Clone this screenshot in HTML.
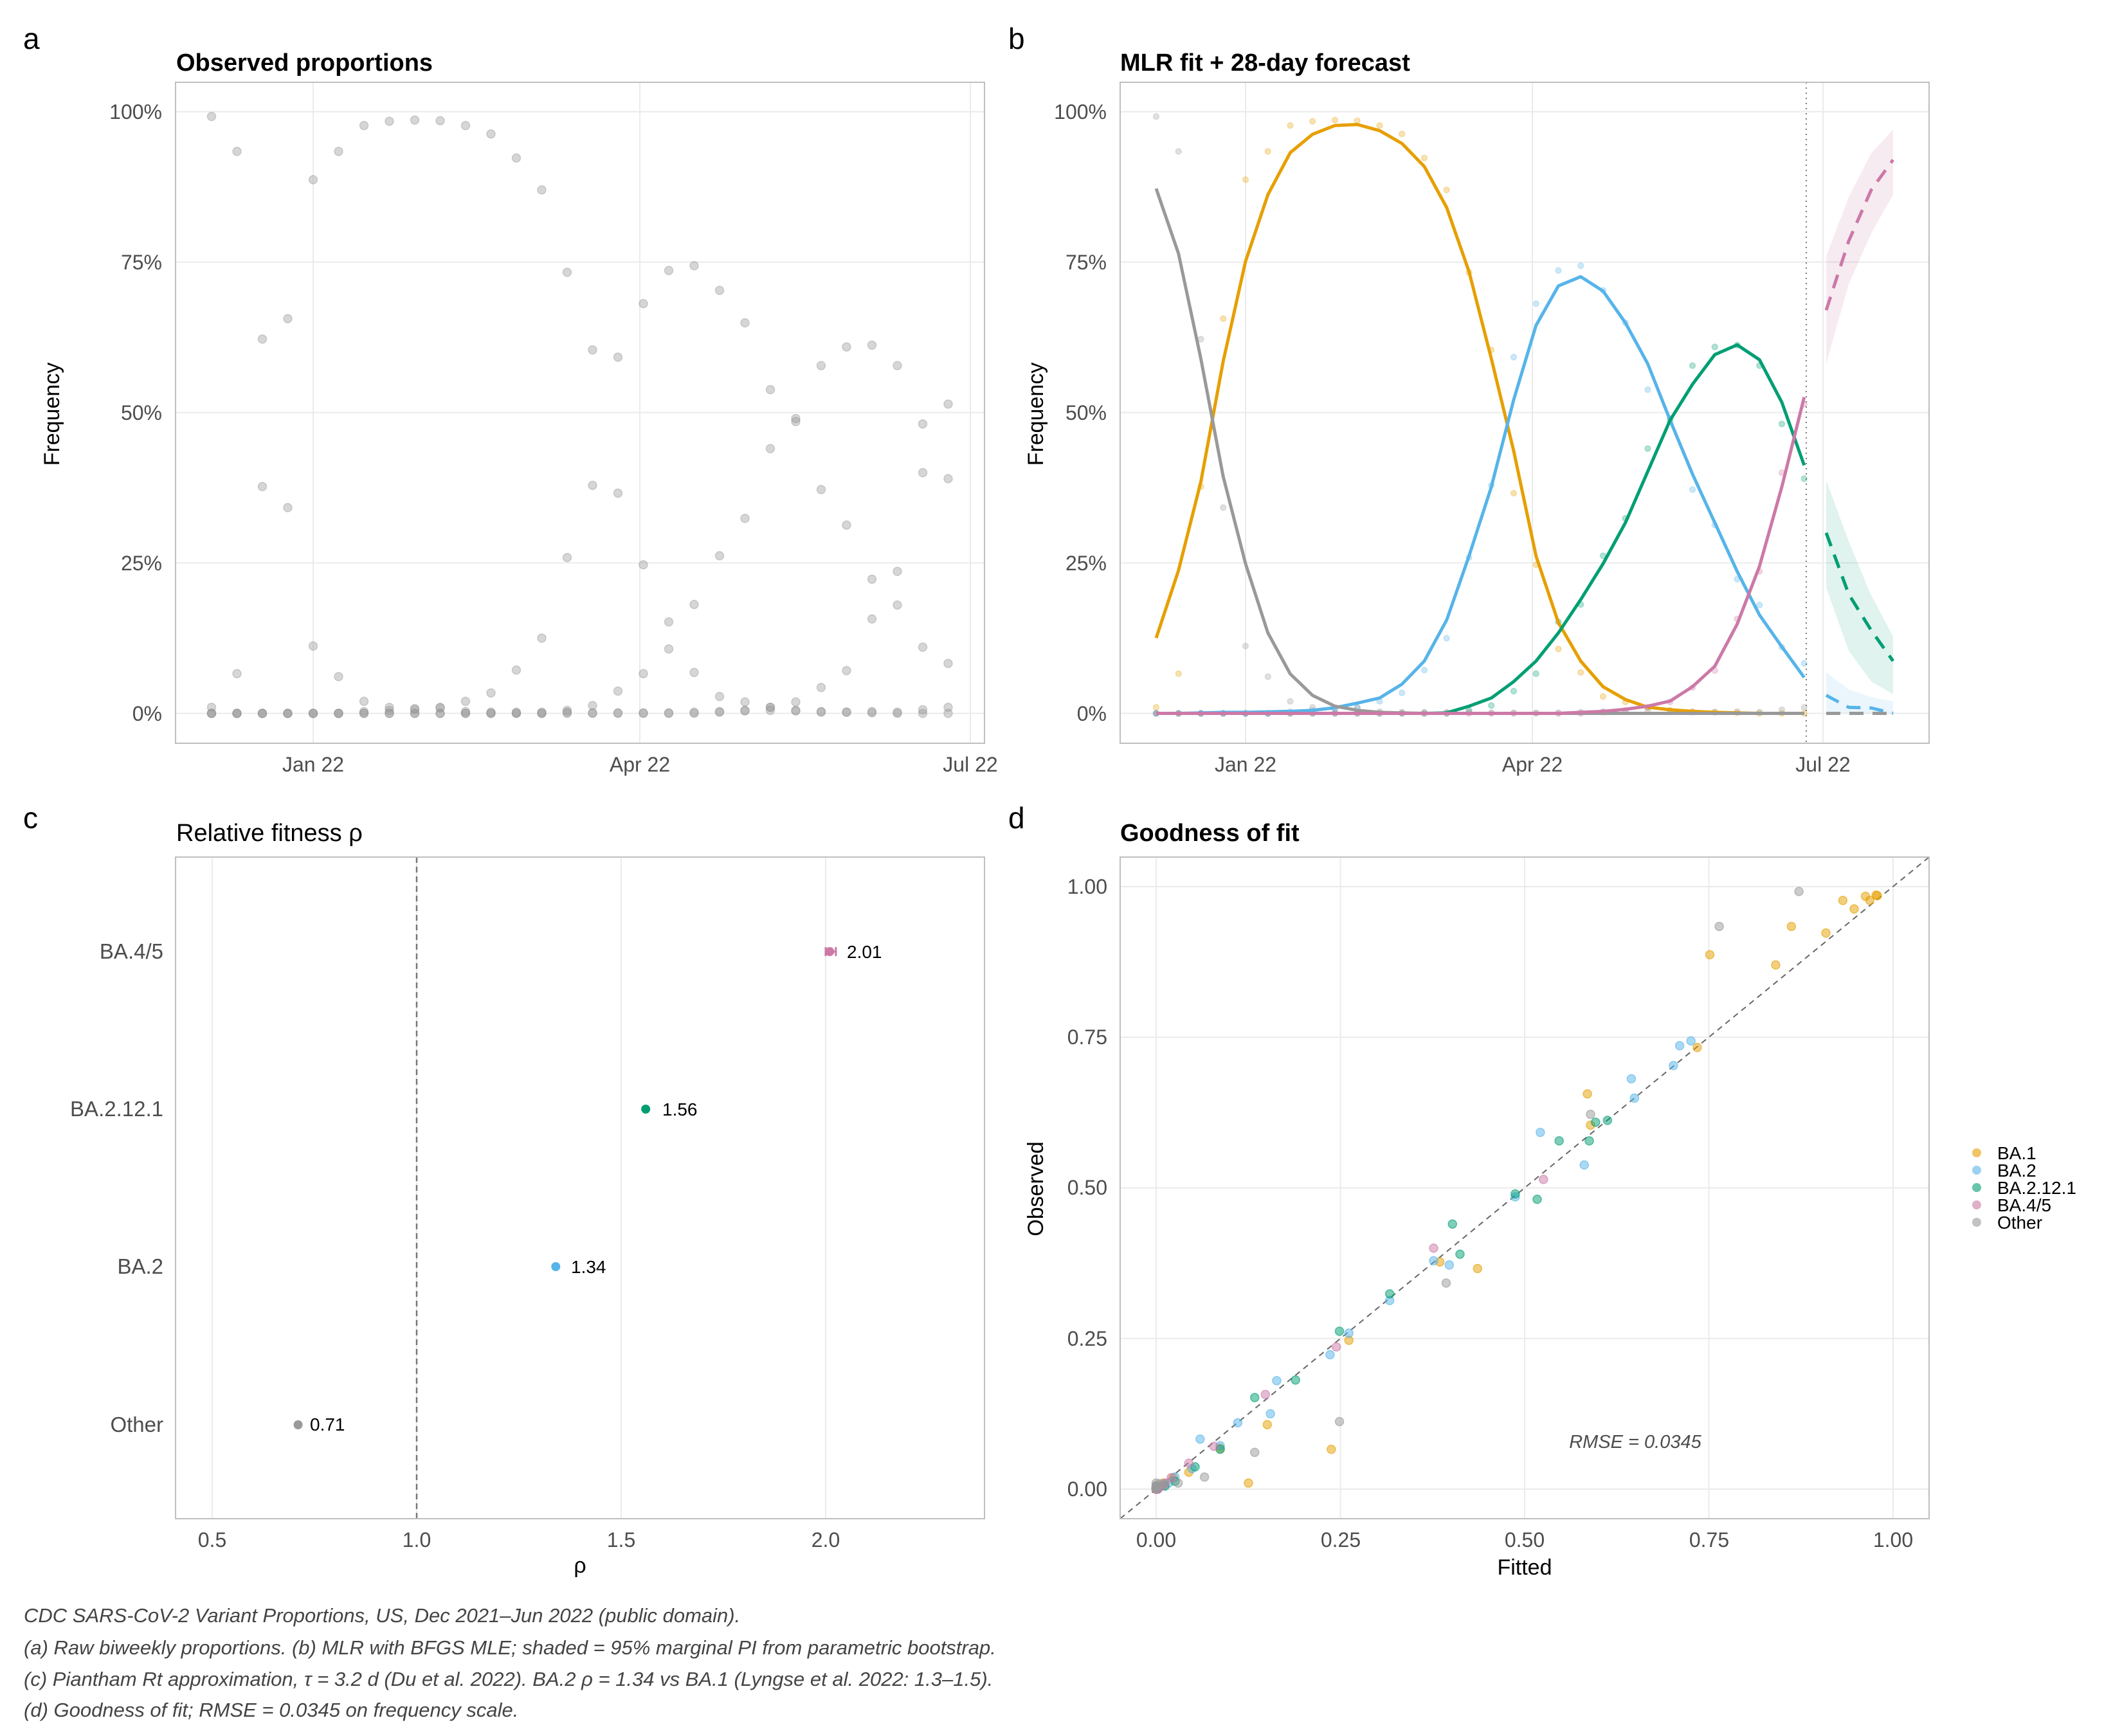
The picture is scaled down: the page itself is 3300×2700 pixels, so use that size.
<!DOCTYPE html>
<html><head><meta charset="utf-8"><style>
html,body{margin:0;padding:0;background:#fff}
svg{display:block}
text{font-family:"Liberation Sans",sans-serif}
.tk{font-size:32px;fill:#4d4d4d}
.tt{font-size:38px;font-weight:bold;fill:#000}
.pl{font-size:46px;fill:#000}
.ax{font-size:34px;fill:#000}
.cap{font-size:31px;font-style:italic;fill:#444}
</style></head><body>
<svg id="s" width="3300" height="2700" viewBox="0 0 3300 2700" xmlns="http://www.w3.org/2000/svg">
<rect width="3300" height="2700" fill="#fff"/>
<g id="grid"></g>
<g id="data"></g>
<g fill="none" stroke="#bfbfbf" stroke-width="2">
<rect x="273" y="128" width="1258" height="1028"/>
<rect x="1742" y="128" width="1258" height="1028"/>
<rect x="273" y="1333" width="1258" height="1029"/>
<rect x="1742" y="1333" width="1258" height="1029"/>
</g>
<text class="pl" x="36" y="76">a</text>
<text class="pl" x="1568" y="76">b</text>
<text class="pl" x="36" y="1288">c</text>
<text class="pl" x="1568" y="1288">d</text>
<text class="tt" x="274" y="110">Observed proportions</text>
<text class="tt" x="1742" y="110">MLR fit + 28-day forecast</text>
<text x="274" y="1308" style="font-size:38px;fill:#000">Relative fitness ρ</text>
<text class="tt" x="1742" y="1308">Goodness of fit</text>
<g class="tk" text-anchor="end">
<text x="252" y="185">100%</text><text x="252" y="419">75%</text><text x="252" y="653">50%</text><text x="252" y="887">25%</text><text x="252" y="1121">0%</text>
<text x="1721" y="185">100%</text><text x="1721" y="419">75%</text><text x="1721" y="653">50%</text><text x="1721" y="887">25%</text><text x="1721" y="1121">0%</text>
<text x="254" y="1491" style="font-size:33px">BA.4/5</text><text x="254" y="1736" style="font-size:33px">BA.2.12.1</text><text x="254" y="1981" style="font-size:33px">BA.2</text><text x="254" y="2227" style="font-size:33px">Other</text>
<text x="1722" y="1390">1.00</text><text x="1722" y="1624">0.75</text><text x="1722" y="1858">0.50</text><text x="1722" y="2093">0.25</text><text x="1722" y="2327">0.00</text>
</g>
<g class="tk" text-anchor="middle">
<text x="487" y="1200">Jan 22</text><text x="995" y="1200">Apr 22</text><text x="1509" y="1200">Jul 22</text>
<text x="1937" y="1200">Jan 22</text><text x="2383" y="1200">Apr 22</text><text x="2835" y="1200">Jul 22</text>
<text x="330" y="2406">0.5</text><text x="648" y="2406">1.0</text><text x="966" y="2406">1.5</text><text x="1284" y="2406">2.0</text>
<text x="1798" y="2406">0.00</text><text x="2085" y="2406">0.25</text><text x="2371" y="2406">0.50</text><text x="2658" y="2406">0.75</text><text x="2944" y="2406">1.00</text>
</g>
<text class="ax" text-anchor="middle" transform="translate(92,644) rotate(-90)">Frequency</text>
<text class="ax" text-anchor="middle" transform="translate(1622,644) rotate(-90)">Frequency</text>
<text class="ax" text-anchor="middle" transform="translate(1622,1849) rotate(-90)">Observed</text>
<text class="ax" text-anchor="middle" x="902" y="2446">ρ</text>
<text class="ax" text-anchor="middle" x="2371" y="2449">Fitted</text>
<g style="font-size:28px;fill:#000">
<text x="1317" y="1490">2.01</text><text x="1030" y="1735">1.56</text><text x="888" y="1980">1.34</text><text x="482" y="2225">0.71</text>
</g>
<text x="2543" y="2252" text-anchor="middle" style="font-size:29px;font-style:italic;fill:#4d4d4d">RMSE = 0.0345</text>
<g style="font-size:28px;fill:#000">
<circle cx="3074" cy="1793" r="7" fill="#E69F00" fill-opacity=".6"/><text x="3106" y="1803">BA.1</text>
<circle cx="3074" cy="1820" r="7" fill="#56B4E9" fill-opacity=".6"/><text x="3106" y="1830">BA.2</text>
<circle cx="3074" cy="1847" r="7" fill="#009E73" fill-opacity=".6"/><text x="3106" y="1857">BA.2.12.1</text>
<circle cx="3074" cy="1874" r="7" fill="#CC79A7" fill-opacity=".6"/><text x="3106" y="1884">BA.4/5</text>
<circle cx="3074" cy="1901" r="7" fill="#999999" fill-opacity=".6"/><text x="3106" y="1911">Other</text>
</g>
<text class="cap" x="37" y="2523">CDC SARS-CoV-2 Variant Proportions, US, Dec 2021–Jun 2022 (public domain).</text>
<text class="cap" x="37" y="2573">(a) Raw biweekly proportions. (b) MLR with BFGS MLE; shaded = 95% marginal PI from parametric bootstrap.</text>
<text class="cap" x="37" y="2622">(c) Piantham Rt approximation, τ = 3.2 d (Du et al. 2022). BA.2 ρ = 1.34 vs BA.1 (Lyngse et al. 2022: 1.3–1.5).</text>
<text class="cap" x="37" y="2670">(d) Goodness of fit; RMSE = 0.0345 on frequency scale.</text>
</svg>
<script>
var NS="http://www.w3.org/2000/svg";
function el(p,t,a){var e=document.createElementNS(NS,t);for(var k in a)e.setAttribute(k,a[k]);p.appendChild(e);return e;}
var G=document.getElementById("grid"),D=document.getElementById("data");
var gs={stroke:"#ebebeb","stroke-width":2};
function ya(v){return 1109.5-v*935.8;}
function xa(i){return 329+39.5*i;}
function xb(i){return 1798+34.75*i;}
function xd(v){return 1798+1146*v;}
function yd(v){return 2316-937*v;}
function xc(r){return 330+636*(r-0.5);}
[0,.25,.5,.75,1].forEach(function(v){
 el(G,"line",Object.assign({x1:273,x2:1531,y1:ya(v),y2:ya(v)},gs));
 el(G,"line",Object.assign({x1:1742,x2:3000,y1:ya(v),y2:ya(v)},gs));
 el(G,"line",Object.assign({x1:1742,x2:3000,y1:yd(v),y2:yd(v)},gs));
 el(G,"line",Object.assign({x1:xd(v),x2:xd(v),y1:1333,y2:2362},gs));
});
[487,995,1509].forEach(function(x){el(G,"line",Object.assign({x1:x,x2:x,y1:128,y2:1156},gs));});
[1937,2383,2835].forEach(function(x){el(G,"line",Object.assign({x1:x,x2:x,y1:128,y2:1156},gs));});
[0.5,1,1.5,2].forEach(function(r){el(G,"line",Object.assign({x1:xc(r),x2:xc(r),y1:1333,y2:2362},gs));});
var C={o:"#E69F00",b:"#56B4E9",g:"#009E73",p:"#CC79A7",x:"#999999"};
function z(n){var a=[];for(var i=0;i<n;i++)a.push(0);return a;}
var obs={
x:[99.2,93.4,62.2,34.2,11.2,6.1,2.0,1.0,0.8,0.9,0.3,0.2,0.2,0.2,0.2,0.1,0.1,0.1,0.1,0.2,0.3,0.4,0.5,0.4,0.2,0.2,0.3,0.2,0.6,1.0],
o:[1.0,6.6,37.7,65.6,88.7,93.4,97.7,98.4,98.6,98.5,97.7,96.3,92.3,87.0,73.3,60.4,36.6,24.7,10.7,6.8,2.8,1.9,1.0,0.5,0.3,0.2,0.1,0,0,0],
b:[0,0,0,0,0,0,0.3,0.5,0.6,1.0,2.0,3.4,7.2,12.5,25.9,37.9,59.2,68.1,73.6,74.4,70.3,64.9,53.8,48.5,37.2,31.3,22.3,18.0,11.0,8.3],
g:z(14).concat([0.5,1.3,3.7,6.6,15.2,18.1,26.2,32.4,44.0,49.0,57.8,60.9,61.2,57.8,48.1,39.0]),
p:z(20).concat([0.2,0.5,1.0,1.9,4.3,7.1,15.7,23.6,40.0,51.4])
};
function fy(a){return a.map(function(y){return (1392-y)/1174;});}
var fit={
o:fy([1245,1113,940,705,510,380,298,262,245,243,255,280,325,405,530,700,880,1085,1215,1290,1340,1365,1380,1385,1388,1390,1391,1392,1392,1392]),
x:fy([368,495,700,930,1100,1235,1315,1357,1378,1386,1390,1391,1392,1392,1392,1392,1392,1392,1392,1392,1392,1392,1392,1392,1392,1392,1392,1392,1392,1392]),
b:fy([1392,1392,1391,1390,1390,1389,1388,1386,1381,1372,1362,1335,1290,1210,1085,950,780,635,558,540,568,630,710,820,925,1020,1115,1200,1262,1322]),
g:fy([1392,1392,1392,1392,1392,1392,1392,1392,1392,1392,1392,1392,1392,1391,1378,1362,1330,1290,1235,1170,1100,1020,920,820,750,692,673,702,785,908]),
p:fy([1392,1392,1392,1392,1392,1392,1392,1392,1392,1392,1392,1392,1392,1392,1392,1392,1392,1392,1392,1390,1388,1384,1378,1368,1340,1300,1218,1105,950,775])
};
var keys=["o","b","g","p","x"];
keys.forEach(function(k){obs[k].forEach(function(v,i){
 el(D,"circle",{cx:xa(i),cy:ya(v/100),r:6.5,fill:"#999","fill-opacity":.4,stroke:"#888","stroke-opacity":.35,"stroke-width":1.5});
});});
var fx=[2840,2875,2910,2944];
function band(up,lo,col,op){var pts=[];for(var i=0;i<4;i++)pts.push(fx[i]+","+ya(up[i]/100));for(var i=3;i>=0;i--)pts.push(fx[i]+","+ya(lo[i]/100));el(D,"polygon",{points:pts.join(" "),fill:col,"fill-opacity":op});}
band([76.0,85.8,93.1,97.0],[58.1,71.3,79.8,86.2],C.p,.15);
band([38.7,28.6,19.6,12.8],[20.9,10.4,5.3,3.2],C.g,.12);
band([6.8,4.0,2.7,2.0],[0,0,0,0],C.b,.12);
keys.forEach(function(k){obs[k].forEach(function(v,i){
 el(D,"circle",{cx:xb(i),cy:ya(v/100),r:4.5,fill:C[k],"fill-opacity":.3,stroke:C[k],"stroke-opacity":.25,"stroke-width":1.5});
});});
["o","b","g","x","p"].forEach(function(k){
 var pts=fit[k].map(function(v,i){return xb(i)+","+ya(v);}).join(" ");
 el(D,"polyline",{points:pts,fill:"none",stroke:C[k],"stroke-width":5,"stroke-linejoin":"round"});
});
el(D,"line",{x1:2809,x2:2809,y1:128,y2:1156,stroke:"#777","stroke-width":2,"stroke-dasharray":"2,6"});
function dl(vals,col){el(D,"polyline",{points:vals.map(function(v,i){return fx[i]+","+ya(v/100);}).join(" "),fill:"none",stroke:col,"stroke-width":5,"stroke-dasharray":"22,14"});}
dl([0,0,0,0],C.o);dl([0,0,0,0],C.x);
dl([3.0,1.0,0.9,0],C.b);dl([30.0,19.8,13.8,8.7],C.g);dl([67,78.5,87,92],C.p);
el(D,"line",{x1:648,x2:648,y1:1333,y2:2362,stroke:"#777","stroke-width":2.5,"stroke-dasharray":"9,6"});
el(D,"line",{x1:xc(2.0),x2:xc(2.025),y1:1480,y2:1480,stroke:C.p,"stroke-width":3});
el(D,"line",{x1:xc(2.0),x2:xc(2.0),y1:1473,y2:1487,stroke:C.p,"stroke-width":3});
el(D,"line",{x1:xc(2.025),x2:xc(2.025),y1:1473,y2:1487,stroke:C.p,"stroke-width":3});
[[2.01,1480,C.p],[1.56,1725,C.g],[1.34,1970,C.b],[0.71,2216,C.x]].forEach(function(a){
 el(D,"circle",{cx:xc(a[0]),cy:a[1],r:7,fill:a[2]});
});
el(D,"line",{x1:1742,y1:2362,x2:3000,y2:1333,stroke:"#666","stroke-width":2,"stroke-dasharray":"9,7"});
keys.forEach(function(k){obs[k].forEach(function(v,i){
 el(D,"circle",{cx:xd(fit[k][i]),cy:yd(v/100),r:6.5,fill:C[k],"fill-opacity":.5,stroke:C[k],"stroke-opacity":.6,"stroke-width":1.5});
});});
</script>
</body></html>
